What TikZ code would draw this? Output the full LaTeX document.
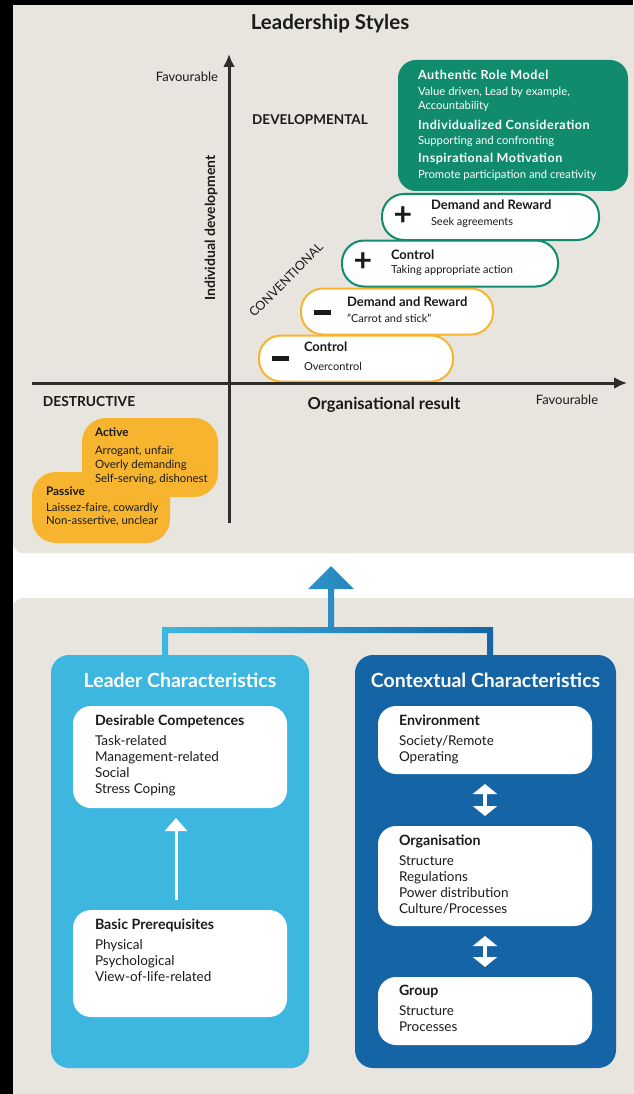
\documentclass[tikz,border=0pt]{standalone}
\usepackage{fontspec}
\setmainfont{Lato}
\usetikzlibrary{arrows.meta,calc}
\definecolor{panel}{HTML}{E8E5DF}
\definecolor{axiscol}{HTML}{2D2D2A}
\definecolor{teal}{HTML}{108B6D}
\definecolor{orng}{HTML}{F7B52F}
\definecolor{lblue}{HTML}{3DB6E0}
\definecolor{dblue}{HTML}{1565A6}
\definecolor{ink}{HTML}{1A1A1A}
\begin{document}
\begin{tikzpicture}[x=1pt,y=-1pt,
  every node/.style={inner sep=0pt, outer sep=0pt},
  txt/.style={anchor=west, text=ink, font=\fontsize{11}{13}\selectfont, text height=0.72em, text depth=0.2em},
  hdr/.style={txt, font=\fontsize{13}{15}\selectfont\bfseries},
  gtxt/.style={txt, text=white, font=\fontsize{11.3}{13}\selectfont},
  ghdr/.style={txt, text=white, font=\fontsize{12.6}{14}\selectfont\bfseries\addfontfeatures{LetterSpace=4}},
  btxt/.style={txt, font=\fontsize{13.5}{15}\selectfont},
  bhdr/.style={txt, font=\fontsize{14.2}{16}\selectfont\bfseries},
  otxt/.style={txt, font=\fontsize{11.4}{13}\selectfont},
  ohdr/.style={txt, font=\fontsize{11.8}{13}\selectfont\bfseries},
  pill/.style={fill=white, line width=2pt, rounded corners=22pt, minimum height=46pt},
  gpill/.style={pill, draw=teal},
  opill/.style={pill, draw=orng},
  sign/.style={text=ink, font=\fontsize{32}{32}\selectfont\bfseries},
  wbox/.style={fill=white, rounded corners=18pt, anchor=north west},
  colbox/.style={rounded corners=18pt, anchor=north west},
  coltitle/.style={text=white, font=\fontsize{19.5}{21}\selectfont\bfseries},
  axisline/.style={draw=axiscol, line width=3pt, -{Latex[length=13pt,width=12pt]}},
  dblarrow/.style={draw=white, line width=4pt, {Triangle[width=24pt,length=10pt]}-{Triangle[width=24pt,length=10pt]}, shorten <=10pt, shorten >=10pt},
  uparrow/.style={draw=white, line width=3pt, -{Triangle[width=22pt,length=13pt]}, shorten <=10pt, shorten >=10pt},
  lbl/.style={text=ink, font=\fontsize{13}{15}\selectfont},
  blbl/.style={text=ink, font=\fontsize{14}{16}\selectfont\bfseries}
]
\useasboundingbox (0,0) rectangle (633,1094);
% backgrounds
\fill[white] (0,0) rectangle (633,1094);
\fill[panel, rounded corners=10pt] (13,5) rectangle (660,553);
\fill[panel] (13,5) rectangle (40,40);
\fill[panel, rounded corners=10pt] (13,598) rectangle (660,1120);
\fill[black] (0,0) rectangle (13,1094);
\fill[black] (0,0) rectangle (633,5);

% title
\node[text=ink, font=\fontsize{20.5}{22}\selectfont\bfseries] (title) at (330,24) {Leadership Styles};

% axes
\coordinate (ybot) at (229,523);
\coordinate (ytop) at (229,54);
\coordinate (xleft) at (32,383);
\coordinate (xright) at (627,383);

% green box
\node[fill=teal, rounded corners=18pt, minimum width=230pt, minimum height=131pt, anchor=north west] (green) at (398,60) {};
\node[ghdr] (g1) at (418,77) {Authentic Role Model};
\node[gtxt] (g1a) at (418,93) {Value driven, Lead by example,};
\node[gtxt] (g1b) at (418,107) {Accountability};
\node[ghdr] (g2) at (418,127) {Individualized Consideration};
\node[gtxt] (g2a) at (418,142) {Supporting and confronting};
\node[ghdr] (g3) at (418,160) {Inspirational Motivation};
\node[gtxt] (g3a) at (418,176) {Promote participation and creativity};

% pills
\node[opill, minimum width=194pt] (p1) at (356,358.5) {};
\node[opill, minimum width=192pt] (p2) at (397,311.5) {};
\node[gpill, minimum width=216pt] (p3) at (450,263.5) {};
\node[gpill, minimum width=217pt] (p4) at (490.5,217) {};

\node[sign] (s4) at (403,216) {+};
\node[hdr] (p4h) at (431,207) {Demand and Reward};
\node[txt] (p4t) at (431,223) {Seek agreements};
\node[sign] (s3) at (363,262) {+};
\node[hdr] (p3h) at (391,257) {Control};
\node[txt] (p3t) at (391,271) {Taking appropriate action};
\node (s2) at (322,312) {\color{ink}\rule{17pt}{5pt}};
\node[hdr] (p2h) at (347,304) {Demand and Reward};
\node[txt] (p2t) at (347,320) {"Carrot and stick"};
\node (s1) at (280,358) {\color{ink}\rule{17pt}{5pt}};
\node[hdr] (p1h) at (304,349) {Control};
\node[txt] (p1t) at (304,368) {Overcontrol};

\draw[axisline] (ybot) -- (ytop);
\draw[axisline] (xleft) -- (xright);

% axis labels
\node[lbl, anchor=east] (fav1) at (218,77) {Favourable};
\node[blbl, rotate=90] (indiv) at (211,228) {Individual development};
\node[text=ink, font=\fontsize{13.5}{15}\selectfont\bfseries] (devel) at (310,120) {DEVELOPMENTAL};
\node[text=ink, font=\fontsize{12.5}{14}\selectfont, rotate=45] (conv) at (286,280) {CONVENTIONAL};
\node[text=ink, font=\fontsize{13.8}{15}\selectfont\bfseries] (destr) at (89,402) {DESTRUCTIVE};
\node[text=ink, font=\fontsize{16.5}{18}\selectfont\bfseries] (orgres) at (384,405) {Organisational result};
\node[lbl] (fav2) at (567,400) {Favourable};

% destructive
\node[fill=orng, rounded corners=24pt, minimum width=136pt, minimum height=79pt, anchor=north west] (active) at (82,418) {};
\node[fill=orng, rounded corners=24pt, minimum width=138pt, minimum height=71pt, anchor=north west] (passive) at (32,472) {};
\node[ohdr] (acth) at (95,434) {Active};
\node[otxt] (act1) at (95,452) {Arrogant, unfair};
\node[otxt] (act2) at (95,466) {Overly demanding};
\node[otxt] (act3) at (95,480) {Self-serving, dishonest};
\node[ohdr] (pash) at (46,493) {Passive};
\node[otxt] (pas1) at (46,509) {Laissez-faire, cowardly};
\node[otxt] (pas2) at (46,522) {Non-assertive, unclear};

% big connector arrow
\coordinate (legL) at (165,656);
\coordinate (legR) at (490,656);
\coordinate (apex) at (331,566);
\shade[left color=lblue, right color=dblue]
  (162,656) -- (162,627) -- (328,627) -- (328,589) -- (308,589) -- (apex) -- (354,589)
  -- (334,589) -- (334,627) -- (493,627) -- (493,656) -- (487,656) -- (487,633)
  -- (168,633) -- (168,656) -- cycle;

% leader characteristics
\node[colbox, fill=lblue, minimum width=258pt, minimum height=413pt] (leader) at (51,655) {};
\node[coltitle] (leadt) at (180,680) {Leader Characteristics};
\node[wbox, minimum width=214pt, minimum height=102pt] (desir) at (73,706) {};
\node[bhdr] (desh) at (95,723) {Desirable Competences};
\node[btxt] (des1) at (95,743) {Task-related};
\node[btxt] (des2) at (95,759) {Management-related};
\node[btxt] (des3) at (95,775) {Social};
\node[btxt] (des4) at (95,791) {Stress Coping};
\node[wbox, minimum width=214pt, minimum height=107pt] (basic) at (73,910) {};
\node[bhdr] (bash) at (95,927) {Basic Prerequisites};
\node[btxt] (bas1) at (95,947) {Physical};
\node[btxt] (bas2) at (95,963) {Psychological};
\node[btxt] (bas3) at (95,979) {View-of-life-related};
\draw[uparrow] (basic.north -| 176,0) -- (desir.south -| 176,0);

% contextual characteristics
\node[colbox, fill=dblue, minimum width=261pt, minimum height=413pt] (context) at (355,655) {};
\node[coltitle] (contt) at (485.5,680) {Contextual Characteristics};
\node[wbox, minimum width=214pt, minimum height=68pt] (env) at (378,706) {};
\node[bhdr] (envh) at (399,723) {Environment};
\node[btxt] (env1) at (399,743) {Society/Remote};
\node[btxt] (env2) at (399,759) {Operating};
\node[wbox, minimum width=214pt, minimum height=100pt] (orgn) at (378,826) {};
\node[bhdr] (orgh) at (399,843) {Organisation};
\node[btxt] (org1) at (399,863) {Structure};
\node[btxt] (org2) at (399,879) {Regulations};
\node[btxt] (org3) at (399,895) {Power distribution};
\node[btxt] (org4) at (399,911) {Culture/Processes};
\node[wbox, minimum width=214pt, minimum height=68pt] (group) at (378,977) {};
\node[bhdr] (grph) at (399,993) {Group};
\node[btxt] (grp1) at (399,1013) {Structure};
\node[btxt] (grp2) at (399,1029) {Processes};
\draw[dblarrow] (env.south) -- (orgn.north);
\draw[dblarrow] (orgn.south) -- (group.north);
\end{tikzpicture}
\end{document}
